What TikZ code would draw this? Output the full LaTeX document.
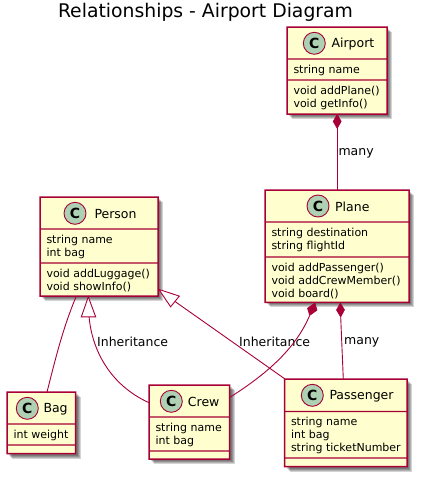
\documentclass[tikz,border=0pt]{standalone}
\usepackage{fontspec}
\setmainfont{DejaVu Sans}
\usetikzlibrary{calc}
\definecolor{umlfill}{HTML}{FEFECE}
\definecolor{umlline}{HTML}{A80036}
\definecolor{umlspot}{HTML}{ADD1B2}
\tikzset{
  x=1pt,y=-1pt,
  umlbox/.style={fill=umlfill,draw=none,inner sep=0pt,rectangle,anchor=north west},
  shadowlayer/.style={fill=black,fill opacity=.17,draw=none},
  spot/.style={circle,draw=umlline,fill=umlspot,line width=.9pt,minimum size=22pt,inner sep=0pt,font=\fontsize{14}{14}\selectfont\bfseries},
  classname/.style={anchor=west,inner sep=0pt,font=\fontsize{12.5}{14}\selectfont},
  members/.style={anchor=north west,inner sep=0pt,align=left,font=\fontsize{11}{13}\selectfont},
  edge label/.style={anchor=west,inner sep=0pt,font=\fontsize{12.5}{14}\selectfont},
  rel/.style={draw=umlline,line width=.9pt},
  comp/.style={draw=umlline,fill=umlline,line width=.6pt,line join=round},
  ext/.style={draw=umlline,fill=white,line width=.9pt,line join=miter},
}
% name, x1, y1, x2, y2, div1, div2, title, cy, cx, tx, attrs, methods
\newcommand{\classbox}[9]{%
  \foreach \s in {2,3,4,5}{\fill[shadowlayer] (#2+\s,#3+\s) rectangle (#4+\s,#5+\s);}
  \node[umlbox,minimum width=#4-#2,minimum height=#5-#3] (#1) at (#2,#3) {};
  \fill[umlline,even odd rule] (#2-.75,#3-.75) rectangle (#4+.75,#5+.75) (#2+.75,#3+.75) rectangle (#4-.75,#5-.75);
  \fill[umlline] (#2,#6-.6) rectangle (#4,#6+.6) (#2,#7-.6) rectangle (#4,#7+.6);
  \def\boxname{#1}\def\boxx{#2}\def\boxa{#6}\def\boxb{#7}\def\boxtitle{#8}\def\boxcy{#9}%
  \classboxrest}
\newcommand{\classboxrest}[4]{%
  \node[spot] (\boxname-spot) at (#1,\boxcy) {C};
  \node[classname] (\boxname-title) at (#2,\boxcy+.5) {\boxtitle};
  \node[members] (\boxname-attrs) at (\boxx+6.3,\boxa+5.6) {#3};
  \node[members] (\boxname-meth) at (\boxx+6.3,\boxb+5.6) {#4};
}
\begin{document}
\begin{tikzpicture}
\useasboundingbox (0,0) rectangle (422,479);
\node[anchor=base,inner sep=0pt,font=\fontsize{18.8}{20}\selectfont] (title) at (205.5,17) {Relationships - Airport Diagram};

\classbox{airport}{287}{27}{387}{114}{59}{80}{Airport}{43.3}{314.3}{331.3}{string name}{void addPlane()\\void getInfo()}
\classbox{plane}{265}{190}{409}{302.3}{222}{257}{Plane}{206}{318}{335}{string destination\\string flightId}{void addPassenger()\\void addCrewMember()\\void board()}
\classbox{person}{40}{197}{158}{296}{229}{263}{Person}{213.3}{75}{94.3}{string name\\int bag}{void addLuggage()\\void showInfo()}
\classbox{bag}{7}{392}{75.5}{453.5}{424}{445}{Bag}{408.3}{27.3}{43.3}{int weight}{}
\classbox{crew}{149}{385}{229.5}{459}{417}{451}{Crew}{401.3}{171.3}{187.7}{string name\\int bag}{}
\classbox{passenger}{284.5}{379}{407}{466.5}{411.5}{458}{Passenger}{395.3}{312.3}{329.3}{string name\\int bag\\string ticketNumber}{}

% Airport - Plane
\draw[rel] (airport.south) ++(0,14) coordinate (apd) -- (apd |- plane.north);
\draw[comp] (airport.south) -- ++(4,7) -- ++(-4,7) -- ++(-4,-7) -- cycle;
\node[edge label] (many1) at (338.3,153.5) {many};

% Person - Bag
\coordinate (pb1) at ($(person.south west)+(36,0.5)$);
\coordinate (pb2) at ($(bag.north west)+(40,0)$);
\draw[rel] (pb1) .. controls (62,330) and (54,365) .. (pb2);

% Person <|- Crew
\coordinate (pc0) at ($(person.south west)+(48.3,0.5)$);
\coordinate (pc1) at ($(pc0)+(0.8,20)$);
\coordinate (pc2) at ($(crew.north west)+(0,17.7)$);
\draw[rel] (pc1) .. controls (92,350) and (110,385) .. (pc2);
\draw[ext] (pc0) -- ($(pc0)+(7.4,20)$) -- ($(pc0)+(-7,20)$) -- cycle;
\node[edge label] (inh1) at (97,341.5) {Inheritance};

% Person <|- Passenger
\coordinate (pp0) at ($(person.south east)+(0.5,-7)$);
\coordinate (pp1) at ($(pp0)+(20.4,6.7)$);
\coordinate (pp2) at ($(pp0)+(11.7,17.4)$);
\coordinate (ppm) at ($(pp1)!.5!(pp2)$);
\draw[rel] (ppm) -- ($(passenger.north west)+(0.5,0)$);
\draw[ext] (pp0) -- (pp1) -- (pp2) -- cycle;
\node[edge label] (inh2) at (239,342) {Inheritance};

% Plane - Crew
\coordinate (plc0) at ($(plane.south west)+(50,0.3)$);
\coordinate (plc1) at ($(plc0)+(-5.3,12.4)$);
\coordinate (plc2) at ($(crew.north east)+(0,12.3)$);
\draw[rel] (plc1) .. controls (295,350) and (265,375) .. (plc2);
\draw[comp] (plc0) -- ++(2,7.2) -- (plc1) -- ++(-2.2,-7.2) -- cycle;

% Plane - Passenger
\coordinate (plp0) at ($(plane.south west)+(75.3,0.3)$);
\coordinate (plp1) at ($(plp0)+(0.4,14)$);
\draw[rel] (plp1) -- ($(passenger.north west)+(58.8,0)$);
\draw[comp] (plp0) -- ++(4.2,6.8) -- (plp1) -- ++(-4.2,-7) -- cycle;
\node[edge label] (many2) at (344,342.5) {many};
\end{tikzpicture}
\end{document}
